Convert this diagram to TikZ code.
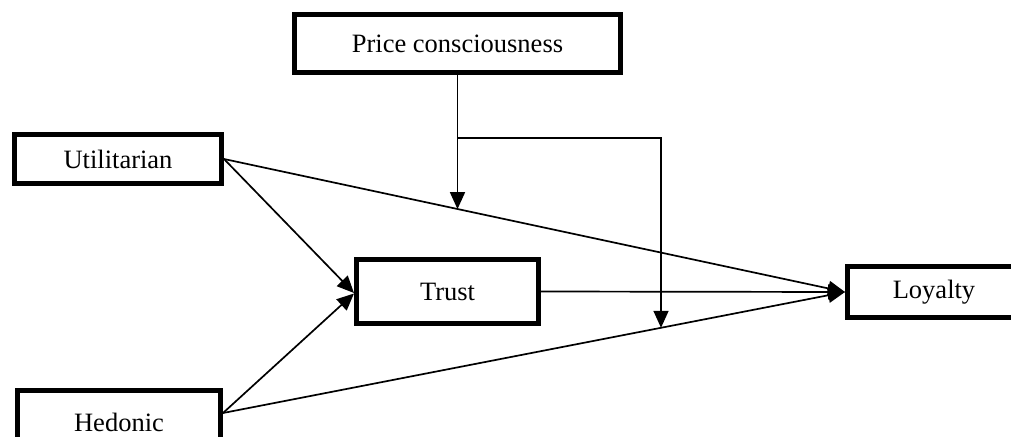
\documentclass[tikz,border=0pt]{standalone}
\usepackage{fontspec}
\setmainfont{Liberation Serif}
\usetikzlibrary{arrows.meta,calc}
\begin{document}
\begin{tikzpicture}[x=1pt,y=-1pt,
  box/.style={draw, line width=5pt, inner sep=0pt, font=\fontsize{26.5}{30}\selectfont},
  conn/.style={line width=1.7pt, -{Triangle[length=17pt,width=15pt]}},
  plain/.style={line width=1.7pt}]
\useasboundingbox (0,0) rectangle (1011,436);
\clip (0,0) rectangle (1011,436);
\node[box, minimum width=326pt, minimum height=58pt] (price) at (457.5,43.5) {Price consciousness};
\node[box, minimum width=207pt, minimum height=49pt] (util) at (118,159) {Utilitarian};
\node[box, minimum width=182pt, minimum height=64pt] (trust) at (447.5,291.5) {Trust};
\node[box, minimum width=173pt, minimum height=51pt] (loyalty) at (934,292) {Loyalty};
\node[box, minimum width=203pt, minimum height=64pt] (hedonic) at (119,422) {Hedonic};
\coordinate (ue) at (224,159);
\coordinate (he) at (223,413);
\coordinate (lw) at (845,292);
\draw[conn] (ue) -- ($(trust.west)+(0,1.5)$);
\draw[conn] (he) -- ($(trust.west)+(0,2)$);
\draw[conn] (ue) -- (lw);
\draw[conn] (he) -- (lw);
\draw[conn] (trust.east) -- (lw);
\coordinate (m1) at ($(ue)!0.3768!(lw)$);
\coordinate (m2) at ($(he)!0.7042!(lw)$);
\coordinate (j) at ($(price.south)+(0,63)$);
\draw[conn] (price.south) -- (price.south |- m1);
\draw[conn] (j) -| (m2);
\end{tikzpicture}
\end{document}
